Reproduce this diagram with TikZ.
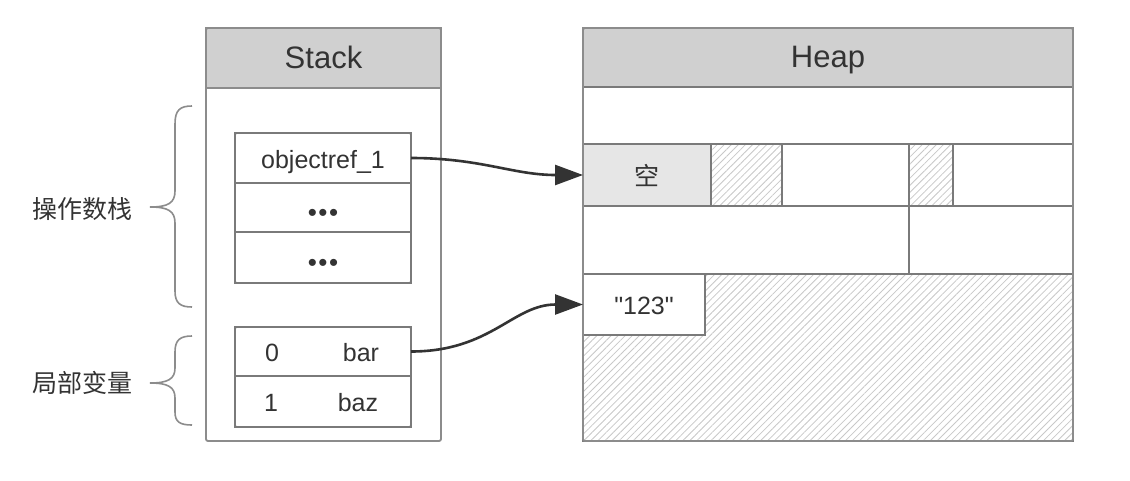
\documentclass[tikz,border=0pt]{standalone}
\usepackage{fontspec}
\setmainfont{Liberation Sans}
\newfontfamily\qfont{Liberation Sans}
\newfontfamily\cjk{Noto Sans CJK SC}
\usetikzlibrary{patterns.meta,arrows.meta}
\definecolor{edge}{HTML}{8C8C8C}
\definecolor{inner}{HTML}{7A7A7A}
\definecolor{hdr}{HTML}{D0D0D0}
\definecolor{kongc}{HTML}{E6E6E6}
\definecolor{txt}{HTML}{333333}
\definecolor{hatchc}{HTML}{C8C8C8}
\begin{document}
\begin{tikzpicture}[x=1pt,y=-1pt,
  cell/.style={draw=inner,line width=1.6pt,inner sep=0pt,outer sep=0pt,text=txt,
    font=\fontsize{25}{30}\selectfont},
  latin/.style={text height=22pt,text depth=2pt},
  hdrcell/.style={cell,latin,draw=edge,fill=hdr,font=\fontsize{31}{36}\selectfont},
  hatch/.style={pattern={Lines[angle=45,distance=5pt,line width=0.8pt]},pattern color=hatchc},
  frame/.style={draw=edge,line width=1.8pt,rounded corners=2pt},
  arr/.style={draw=txt,line width=2.6pt,-{Triangle[length=28pt,width=20pt]}},
  brace/.style={draw=edge,line width=1.6pt},
  lbl/.style={text=txt,font=\cjk\fontsize{25}{30}\selectfont,inner sep=0pt},
  plain/.style={text=txt,font=\fontsize{25}{30}\selectfont,inner sep=0pt,latin},
  dots/.style={text=txt,font=\fontsize{26}{30}\selectfont,inner sep=0pt}
]
\useasboundingbox (0,0) rectangle (1130,480);
\fill[white] (0,0) rectangle (1130,480);

% ---------- Stack ----------
\node[cell,draw=none,fill=white,minimum width=235pt,minimum height=413pt] (stack) at (323.5,234.5) {};
\node[hdrcell,minimum width=235pt,minimum height=60pt] (stackhd) at (323.5,58) {Stack};
\draw[frame] (stack.north west) rectangle (stack.south east);

\node[cell,latin,minimum width=176pt,minimum height=50pt] (objref) at (323,158) {objectref\_1};
\node[cell,minimum width=176pt,minimum height=49pt] (dotsa) at (323,207.5) {};
\node[cell,minimum width=176pt,minimum height=51pt] (dotsb) at (323,257.5) {};
\node[dots] (dotsatxt) at (323,215) {•\kern1.5pt•\kern1.5pt•};
\node[dots] (dotsbtxt) at (323,265.5) {•\kern1.5pt•\kern1.5pt•};
\draw[frame,draw=inner,line width=1.6pt] (objref.north west) rectangle (dotsb.south east);

\node[cell,minimum width=176pt,minimum height=49pt] (bar) at (323,351.5) {};
\node[cell,minimum width=176pt,minimum height=51pt] (baz) at (323,401.5) {};
\draw[frame,draw=inner,line width=1.6pt] (bar.north west) rectangle (baz.south east);
\node[plain] (b0) at (272,351.5) {0};
\node[plain] (bartxt) at (361,351.5) {bar};
\node[plain] (b1) at (271,401.5) {1};
\node[plain] (baztxt) at (358,401.5) {baz};

% ---------- Heap ----------
\node[cell,draw=none,fill=white,minimum width=490pt,minimum height=413pt] (heap) at (828,234.5) {};
\node[hdrcell,minimum width=490pt,minimum height=59pt] (heaphd) at (828,57.5) {Heap};
\node[cell,minimum width=490pt,minimum height=57pt] (row1) at (828,115.5) {};

\node[cell,fill=kongc,minimum width=128pt,minimum height=62pt,font=\cjk\fontsize{25}{30}\selectfont] (kong) at (647,175) {空};
\node[cell,hatch,minimum width=71pt,minimum height=62pt] (hA) at (746.5,175) {};
\node[cell,minimum width=127pt,minimum height=62pt] (wA) at (845.5,175) {};
\node[cell,hatch,minimum width=44pt,minimum height=62pt] (hB) at (931,175) {};
\node[cell,minimum width=120pt,minimum height=62pt] (wB) at (1013,175) {};

\node[cell,minimum width=326pt,minimum height=68pt] (r3a) at (746,240) {};
\node[cell,minimum width=164pt,minimum height=68pt] (r3b) at (991,240) {};

\node[cell,hatch,minimum width=490pt,minimum height=167pt] (free) at (828,357.5) {};
\node[cell,latin,fill=white,minimum width=122pt,minimum height=61pt,font=\qfont\fontsize{25}{30}\selectfont] (str) at (644,304.5) {"123"};

\draw[frame] (heap.north west) rectangle (heap.south east);

% ---------- braces ----------
\draw[brace] (192,106) .. controls (180,106) and (175,110) .. (175,124) -- (175,191)
  .. controls (175,203) and (168,207) .. (150,207)
  .. controls (168,207) and (175,211) .. (175,223) -- (175,291)
  .. controls (175,303) and (180,307) .. (192,307);
\draw[brace] (192,336) .. controls (180,336) and (175,340) .. (175,352) -- (175,368)
  .. controls (175,379) and (168,383) .. (150,383)
  .. controls (168,383) and (175,387) .. (175,398) -- (175,412)
  .. controls (175,422) and (180,425) .. (192,425);
\node[lbl] (opstack) at (82,209) {操作数栈};
\node[lbl] (locals) at (82,383) {局部变量};

% ---------- arrows ----------
\draw[arr] (objref.east) .. controls +(70,0) and +(-70,0) .. (kong.west);
\draw[arr] (bar.east) .. controls +(80,0) and +(-70,0) .. (str.west);
\end{tikzpicture}
\end{document}
